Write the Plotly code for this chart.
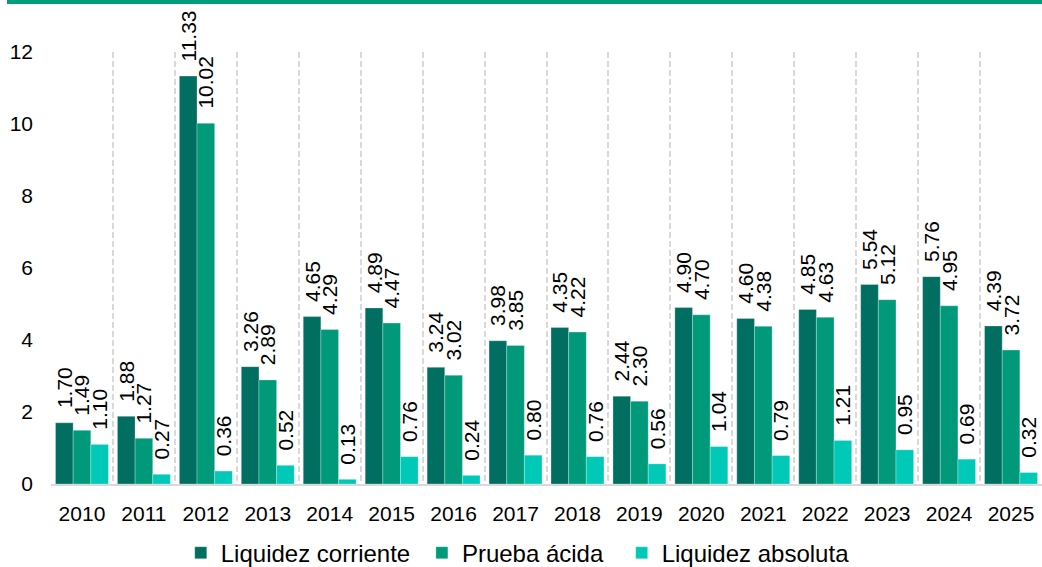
import plotly.graph_objects as go

years = ["2010", "2011", "2012", "2013", "2014", "2015", "2016", "2017",
         "2018", "2019", "2020", "2021", "2022", "2023", "2024", "2025"]
liquidez_corriente = [1.70, 1.88, 11.33, 3.26, 4.65, 4.89, 3.24, 3.98,
                      4.35, 2.44, 4.90, 4.60, 4.85, 5.54, 5.76, 4.39]
prueba_acida = [1.49, 1.27, 10.02, 2.89, 4.29, 4.47, 3.02, 3.85,
                4.22, 2.30, 4.70, 4.38, 4.63, 5.12, 4.95, 3.72]
liquidez_absoluta = [1.10, 0.27, 0.36, 0.52, 0.13, 0.76, 0.24, 0.80,
                     0.76, 0.56, 1.04, 0.79, 1.21, 0.95, 0.69, 0.32]

series = [
    ("Liquidez corriente", liquidez_corriente, "#006E61", "\u00a0"),
    ("Prueba ácida", prueba_acida, "#00997A", "\u00a0\u00a0"),
    ("Liquidez absoluta", liquidez_absoluta, "#00C9B8", ""),
]

font_family = "Arial, Liberation Sans, sans-serif"

fig = go.Figure()
for name, vals, color, pad in series:
    fig.add_trace(go.Bar(
        x=years, y=vals, name=name + pad,
        marker=dict(color=color, line=dict(color="rgba(255,255,255,0.35)", width=0.8)),
        texttemplate="\u00a0\u00a0%{y:.2f}",
        textposition="outside",
        textangle=-90,
        constraintext="none",
        cliponaxis=False,
        textfont=dict(family=font_family, size=21, color="#000000"),
    ))

fig.update_layout(
    width=1042, height=567,
    margin=dict(l=51, r=0, t=52, b=83, autoexpand=False),
    paper_bgcolor="white", plot_bgcolor="white",
    barmode="group", bargap=0.145, bargroupgap=0,
    font=dict(family=font_family, size=21, color="#000000"),
    showlegend=True,
    legend=dict(orientation="h", x=0.471, xanchor="center", y=-0.16, yanchor="middle",
                font=dict(size=24), itemwidth=30, traceorder="normal"),
    xaxis=dict(
        type="category", tickson="boundaries", showgrid=True,
        gridcolor="#D9D9D9", griddash="6px,3px", gridwidth=1.8,
        showline=True, linecolor="#D9D9D9", linewidth=2,
        ticks="", tickfont=dict(size=21), ticklabelstandoff=10,
    ),
    yaxis=dict(
        range=[0, 12], tickvals=[0, 2, 4, 6, 8, 10, 12],
        showgrid=False, zeroline=False, showline=False,
        ticks="", ticklabelstandoff=17, tickfont=dict(size=21),
    ),
    shapes=[dict(type="rect", xref="paper", yref="paper",
                 x0=-44 / 991, x1=1.01,
                 y0=1.0 + 48 / 432, y1=1.0 + 53 / 432,
                 fillcolor="#009E7B", line_width=0, layer="above")],
)

fig.write_html("out.html", config={"displayModeBar": False},
               post_script="document.body.style.margin='0';")
